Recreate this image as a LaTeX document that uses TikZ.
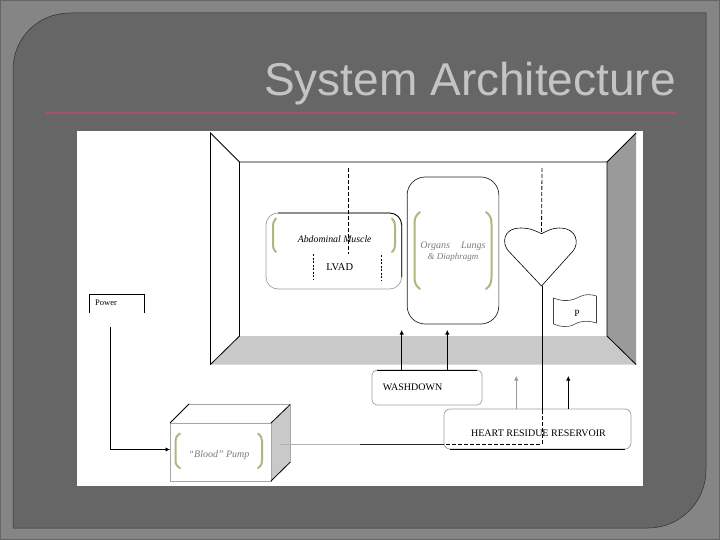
\documentclass[tikz,border=0pt]{standalone}
\usepackage{fontspec}
\setmainfont{Liberation Serif}
\newfontfamily\titlefont{Liberation Sans}
\usetikzlibrary{arrows.meta}
\definecolor{framegray}{HTML}{858585}
\definecolor{innergray}{HTML}{666666}
\definecolor{floorgray}{HTML}{C9C9C9}
\definecolor{wallgray}{HTML}{9A9A9A}
\definecolor{bracketgreen}{HTML}{A9B97F}
\definecolor{rulepink}{HTML}{A9506F}
\definecolor{titlegray}{HTML}{C4C4C4}
\definecolor{softtext}{HTML}{7C7C7C}
\tikzset{
  x=1pt,y=-1pt,
  wire/.style={black,line width=0.8pt},
  softwire/.style={gray!80,line width=0.8pt},
  arrowwire/.style={wire,-{Latex[length=4.5pt,width=4.5pt]}},
  softarrow/.style={softwire,-{Latex[length=4.5pt,width=4.5pt]}},
  dashwire/.style={black,line width=0.8pt,dash pattern=on 4pt off 2pt},
  dotwire/.style={black,line width=0.8pt,dash pattern=on 2pt off 1.5pt},
  bracket/.style={bracketgreen,line width=2pt,line cap=round},
  roundbox/.style={draw=gray!75,line width=0.7pt,rounded corners=#1,inner sep=0pt,outer sep=0pt,fill=white},
  lbl/.style={inner sep=0pt,font=\fontsize{10}{11}\selectfont,align=center},
}
\begin{document}
\begin{tikzpicture}
\useasboundingbox (0,0) rectangle (720,540);
% slide
\fill[framegray] (0,0) rectangle (720,540);
\draw[black!60,line width=0.8pt] (0.4,0.4) rectangle (719.6,539.6);
\fill[innergray,draw=black!55!innergray,line width=0.5pt] (13,528) -- (13,70) .. controls (13,38) and (38,13) .. (70,13) -- (706,13) -- (706,470) .. controls (706,502) and (680,528) .. (648,528) -- cycle;
\node[inner sep=0pt,anchor=base east,font=\titlefont\fontsize{46}{50}\selectfont,text=titlegray] (title) at (676,96) {System Architecture};
\coordinate (ruleL) at (46,113);
\coordinate (ruleR) at (677,113);
\draw[rulepink,line width=1.1pt] (ruleL) -- (ruleR);
% white panel
\fill[white] (77,131) rectangle (643,486);
% room
\coordinate (oTL) at (210.5,133);
\coordinate (oTR) at (636,133);
\coordinate (oBL) at (210.5,364.5);
\coordinate (oBR) at (636,364.5);
\coordinate (iTL) at (239.5,162);
\coordinate (iTR) at (607,162);
\coordinate (iBL) at (239.5,336);
\coordinate (iBR) at (607,336);
\fill[floorgray] (iBL) -- (iBR) -- (oBR) -- (oBL) -- cycle;
\fill[wallgray] (iTR) -- (oTR) -- (oBR) -- (iBR) -- cycle;
\draw[wire] (oBL) -- (oTL) -- (iTL) -- (iTR) -- (oTR);
\draw[wire] (iTL) -- (iBL) -- (oBL);
\draw[wire] (iTR) -- (iBR) -- (oBR);
% power
\coordinate (powA) at (89.5,313);
\coordinate (powB) at (89.5,294);
\coordinate (powC) at (144.5,294);
\coordinate (powD) at (144.5,313);
\draw[wire] (powA) -- (powB) -- (powC) -- (powD);
\node[lbl,font=\fontsize{8.5}{9}\selectfont] (power) at (106,303) {Power};
% abdominal box
\node[roundbox=12pt,minimum width=135.7pt,minimum height=76pt] (abd) at (333.8,251) {};
\coordinate (abdA) at (278,213);
\coordinate (abdB) at (389.7,213);
\coordinate (abdC) at (401.7,225);
\coordinate (abdD) at (401.7,277);
\draw[wire] (abdA) -- (abdB) .. controls (396.3,213) and (401.7,218.4) .. (abdC) -- (abdD);
\draw[bracket] (276,218.5) .. controls (273,222) and (273,224) .. (273,228) -- (273,243) .. controls (273,247) and (273,249) .. (276,252);
\draw[bracket] (392,218.5) .. controls (395,222) and (395,224) .. (395,228) -- (395,243) .. controls (395,247) and (395,249) .. (392,252);
\node[lbl,font=\fontsize{9.8}{11}\selectfont\itshape] (abdtext) at (334.7,239) {Abdominal Muscle};
\node[lbl,font=\fontsize{10.5}{12}\selectfont] (lvad) at (339.7,267.5) {LVAD};
\coordinate (dashA) at (348.5,168);
\coordinate (dashB) at (348.5,254);
\draw[dashwire] (dashA) -- (dashB);
\coordinate (lvadLa) at (313.5,254);
\coordinate (lvadLb) at (313.5,280);
\coordinate (lvadRa) at (381.5,255);
\coordinate (lvadRb) at (381.5,280);
\draw[dotwire] (lvadLa) -- (lvadLb);
\draw[dotwire] (lvadRa) -- (lvadRb);
% organs box
\node[roundbox=18pt,draw=black!85,minimum width=91.7pt,minimum height=147pt] (org) at (453,250.5) {};
\draw[bracket] (420,212) .. controls (416,215) and (414.5,218) .. (414.5,224) -- (414.5,277) .. controls (414.5,283) and (416,286) .. (420,289);
\draw[bracket] (486,212) .. controls (490,215) and (491.5,218) .. (491.5,224) -- (491.5,277) .. controls (491.5,283) and (490,286) .. (486,289);
\node[lbl,font=\fontsize{10}{11}\selectfont\itshape,text=softtext] (orgtext) at (453,246.5) {Organs\hspace{1.1em}Lungs};
\node[lbl,font=\fontsize{9}{10}\selectfont\itshape,text=softtext] (orgtext2) at (453,257.5) {\& Diaphragm};
% heart
\coordinate (tip) at (541.5,286);
\coordinate (dip) at (541.5,233.7);
\draw[black,line width=0.6pt,fill=white] (tip) -- (508.5,251) .. controls (502,244) and (502,228) .. (521,228) .. controls (530,228) and (536,231) .. (dip) .. controls (547,231) and (552,228) .. (559,228) .. controls (578,228) and (579,244) .. (573,251) -- cycle;
\coordinate (heartTop) at (542,168);
\draw[dashwire] (heartTop) -- (dip);
% flag
\draw[black!75,line width=0.6pt] (553.5,298) .. controls (563,302) and (572,301) .. (579,297) .. controls (585,294) and (590,294) .. (596.5,296) -- (596.5,323) .. controls (590,321) and (582,320) .. (575,324) .. controls (568,328) and (560,327) .. (553.5,324) -- cycle;
\node[lbl,font=\fontsize{9.5}{11}\selectfont] (ptext) at (577,313.5) {P};
% washdown
\node[roundbox=5pt,minimum width=110pt,minimum height=35pt] (wash) at (427,387.5) {};
\draw[wire] ([xshift=5pt]wash.north west) -- ([xshift=-5pt]wash.north east);
\node[lbl] (washtext) at (412.5,387.5) {WASHDOWN};
\coordinate (washUpA) at (401.7,330);
\coordinate (washUpB) at (447.3,330);
\draw[arrowwire] (wash.north -| washUpA) -- (washUpA);
\draw[arrowwire] (wash.north -| washUpB) -- (washUpB);
% reservoir
\node[roundbox=6pt,minimum width=187pt,minimum height=40pt,fill=none] (res) at (537.5,429) {};
\draw[wire] ([xshift=6pt]res.south west) -- ([xshift=-6pt]res.south east);
\node[lbl] (restext) at (538.5,433) {HEART RESIDUE RESERVOIR};
\coordinate (resUpA) at (516.3,376);
\coordinate (resUpB) at (568.3,376);
\draw[softarrow] (res.north -| resUpA) -- (resUpA);
\draw[arrowwire] (res.north -| resUpB) -- (resUpB);
% pump
\coordinate (pA) at (170,423);
\coordinate (pB) at (271,423);
\coordinate (pC) at (271,481);
\coordinate (pD) at (170,481);
\coordinate (pE) at (189,404);
\coordinate (pF) at (290.7,404);
\coordinate (pG) at (290.7,461.7);
\fill[floorgray] (pB) -- (pF) -- (pG) -- (pC) -- cycle;
\draw[gray!70,line width=0.7pt] (pE) -- (pF);
\draw[gray!70,line width=0.7pt] (pA) -- (pB) -- (pC) -- (pD) -- cycle;
\draw[wire] (pA) -- (pE);
\draw[wire] (pB) -- (pF);
\draw[wire] (pC) -- (pG);
\draw[gray!70,line width=0.7pt] (pF) -- (pG);
\draw[bracket] (180,433.5) .. controls (176.5,436) and (175.5,438) .. (175.5,441) -- (175.5,460) .. controls (175.5,464) and (176.5,466) .. (180,468);
\draw[bracket] (258,433.5) .. controls (261,436) and (262,438) .. (262,441) -- (262,460) .. controls (262,464) and (261,466) .. (258,468);
\node[lbl,font=\fontsize{10}{11}\selectfont\itshape,text=softtext] (pumptext) at (219,455) {“Blood” Pump};
% connectors
\coordinate (powerOut) at (110.5,327);
\coordinate (pumpIn) at (170,449.5);
\draw[arrowwire] (powerOut) -- (powerOut |- pumpIn) -- (pumpIn);
\coordinate (trunkA) at (542,410);
\coordinate (trunkB) at (542,444);
\coordinate (trunkC) at (444,444);
\coordinate (pumpOut) at (280,444);
\coordinate (pumpMid) at (360,444);
\draw[wire] (tip -| trunkA) -- (trunkA);
\draw[dashwire] (trunkA) -- (trunkB) -- (trunkC);
\draw[black!85,line width=0.8pt] (trunkC) -- (pumpMid);
\draw[gray!60,line width=0.8pt] (pumpMid) -- (pumpOut);
\end{tikzpicture}
\end{document}
